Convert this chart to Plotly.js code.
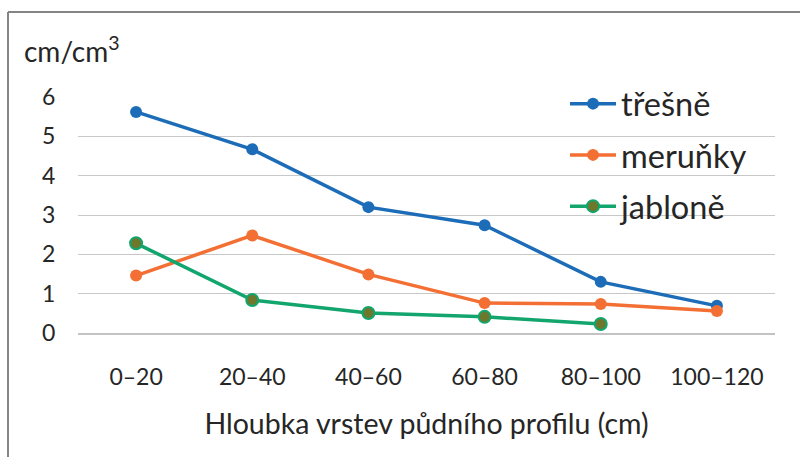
<!DOCTYPE html>
<html>
<head>
<meta charset="utf-8">
<script src="https://cdn.plot.ly/plotly-3.0.1.min.js"></script>
<style>
  html, body { margin: 0; padding: 0; background: #ffffff; overflow: hidden; }
  #chart { width: 800px; height: 457px; }
</style>
</head>
<body>
<div id="chart"></div>
<script>
// Categories (depth layers)
const categories = ["0–20", "20–40", "40–60", "60–80", "80–100", "100–120"];
// Series values (cm/cm³)
const tresne  = [5.62, 4.67, 3.20, 2.74, 1.30, 0.69];
const meruky  = [1.46, 2.48, 1.49, 0.76, 0.74, 0.56];
const jablone = [2.28, 0.84, 0.51, 0.41, 0.23];
// Labels
const seriesNames = ["třešně", "meruňky", "jabloně"];
const yTicks = [0, 1, 2, 3, 4, 5, 6];
const yTitle = "cm/cm<sup>3</sup>";
const xTitle = "Hloubka vrstev půdního profilu (cm)";

const FONT = "Lato, 'Open Sans', sans-serif";
const TEXT = "#262626";

const colors = ["#1c6cb8", "#f36f33", "#12a56d"];
const markerFill = ["#1c6cb8", "#f36f33", "#6e782c"];

const series = [tresne, meruky, jablone];
const traces = series.map((vals, i) => ({
  type: "scatter",
  mode: "lines+markers",
  name: seriesNames[i],
  legendgroup: "g" + i,
  x: categories.slice(0, vals.length),
  y: vals,
  line: { color: colors[i], width: 3.5 },
  marker: { size: 12, color: markerFill[i], line: { color: colors[i], width: i === 2 ? 2 : 0 } },
  cliponaxis: false
}));

const L = 78, R = 25, T = 97, B = 124;
const pw = 800 - L - R, ph = 457 - T - B;

const layout = {
  width: 800,
  height: 457,
  margin: { l: L, r: R, t: T, b: B, pad: 0 },
  paper_bgcolor: "#ffffff",
  plot_bgcolor: "#ffffff",
  font: { family: FONT, color: TEXT },
  title: {
    text: yTitle,
    font: { family: FONT, size: 28, color: TEXT },
    xref: "container", yref: "container",
    x: 24 / 800, xanchor: "left",
    y: 1 - 52 / 457, yanchor: "middle"
  },
  showlegend: true,
  legend: {
    x: (565 - L) / pw, xanchor: "left",
    y: (333 - 76) / ph, yanchor: "top",
    font: { family: FONT, size: 32.5, color: TEXT },
    bgcolor: "rgba(0,0,0,0)",
    borderwidth: 0,
    tracegroupgap: 6,
    itemwidth: 46
  },
  xaxis: {
    type: "category",
    categoryorder: "array",
    categoryarray: categories,
    range: [-0.5, 5.5],
    showgrid: false,
    zeroline: false,
    showline: true,
    linecolor: "#c3c3c3",
    linewidth: 2,
    ticks: "outside",
    ticklen: 22,
    tickcolor: "rgba(0,0,0,0)",
    tickfont: { family: FONT, size: 23, color: TEXT },
    automargin: false,
    title: { text: xTitle, font: { family: FONT, size: 28.5, color: TEXT }, standoff: 25 },
    fixedrange: true
  },
  yaxis: {
    range: [0, 6],
    tickvals: yTicks,
    showgrid: true,
    gridcolor: "#c8c8c8",
    gridwidth: 1,
    zeroline: false,
    showline: false,
    ticks: "outside",
    ticklen: 17,
    tickcolor: "rgba(0,0,0,0)",
    tickfont: { family: FONT, size: 23, color: TEXT },
    automargin: false,
    fixedrange: true
  },
  shapes: [
    { type: "line", xref: "paper", yref: "paper",
      x0: (8 - L) / pw, x1: (820 - L) / pw, y0: (333 - 12) / ph, y1: (333 - 12) / ph,
      line: { color: "#858585", width: 2 } },
    { type: "line", xref: "paper", yref: "paper",
      x0: (8 - L) / pw, x1: (8 - L) / pw, y0: (333 - 12) / ph, y1: (333 - 470) / ph,
      line: { color: "#858585", width: 2 } }
  ]
};

Plotly.newPlot("chart", traces, layout, { displayModeBar: false, staticPlot: true });
</script>
</body>
</html>
